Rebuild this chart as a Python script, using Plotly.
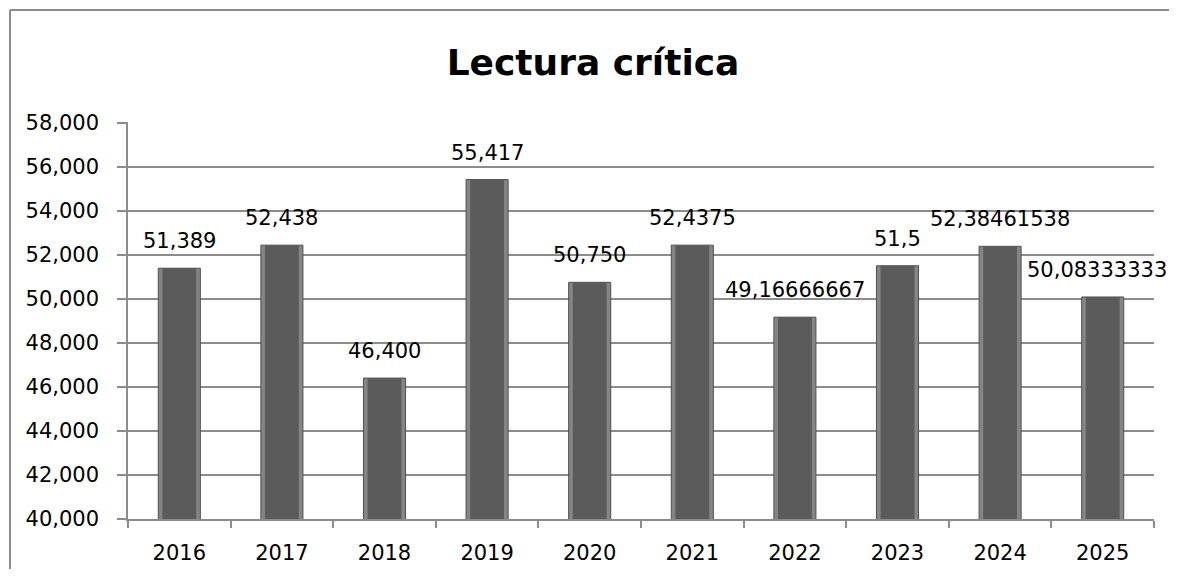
import plotly.graph_objects as go

years = ["2016", "2017", "2018", "2019", "2020", "2021", "2022", "2023", "2024", "2025"]
values = [51.389, 52.438, 46.400, 55.417, 50.750, 52.4375, 49.16666667, 51.5, 52.38461538, 50.08333333]
labels = ["51,389", "52,438", "46,400", "55,417", "50,750", "52,4375", "49,16666667", "51,5", "52,38461538", "50,08333333"]
y_ticks = [40, 42, 44, 46, 48, 50, 52, 54, 56, 58]

FONT = "'DejaVu Sans', sans-serif"

# page body has an 8px margin on every side; keep the figure inside the window
OFF = 8
W, H = 1177 - 2 * OFF, 577 - 2 * OFF
# target plot area in window pixels: x 128..1154, y 122..519
L, T = 128 - OFF, 122 - OFF
R = (OFF + W) - 1154
B = (OFF + H) - 519
PW = W - L - R
PH = H - T - B

fig = go.Figure()
fig.add_trace(go.Bar(
    x=years, y=values, width=0.41,
    marker=dict(color="#858585", line=dict(color="#505050", width=1)),
    hoverinfo="skip", showlegend=False,
))
fig.add_trace(go.Bar(
    x=years, y=values, width=0.33,
    marker=dict(color="#5b5b5b", line=dict(width=0)),
    showlegend=False,
))

# value labels (x given as category index so the axis stays categorical)
for i, (v, lab) in enumerate(zip(values, labels)):
    fig.add_annotation(x=i, y=v, text=lab, showarrow=False,
                       xanchor="center", yanchor="bottom", yshift=13,
                       xshift=-6 if i == len(values) - 1 else 0,
                       font=dict(size=21, color="#000000", family=FONT))

fig.update_layout(
    width=W, height=H,
    barmode="overlay",
    separators=",.",
    paper_bgcolor="white", plot_bgcolor="white",
    margin=dict(l=L, r=R, t=T, b=B, autoexpand=False),
    title=dict(text="<b>Lectura crítica</b>", x=(593 - OFF) / W, xanchor="center",
               xref="container",
               y=1 - (62 - OFF) / H, yanchor="middle",
               font=dict(size=36, color="#000000", family=FONT)),
    font=dict(family=FONT, color="#000000"),
)
fig.update_xaxes(
    type="category", categoryorder="array", categoryarray=years,
    range=[-0.5, len(years) - 0.5],
    automargin=False,
    showline=True, linecolor="#8c8c8c", linewidth=1.5,
    ticks="outside", tickson="boundaries", ticklen=7, tickcolor="#8c8c8c", tickwidth=1.5,
    tickfont=dict(size=21, color="#000000", family=FONT),
    ticklabelstandoff=14,
    tickangle=0,
    showgrid=False,
)
fig.update_yaxes(
    range=[40, 58.03], tickvals=y_ticks, tickformat=".3f",
    automargin=False,
    showline=True, linecolor="#8c8c8c", linewidth=1.5,
    ticks="outside", ticklen=9, tickcolor="#8c8c8c", tickwidth=1.5,
    showgrid=True, gridcolor="#8c8c8c", gridwidth=1.5,
    tickfont=dict(size=21, color="#000000", family=FONT),
    ticklabelstandoff=14,
    zeroline=False,
)
# outer chart frame (left and top edges)
fx = (10 - OFF - L) / PW
fy_top = (H - B - (10 - OFF)) / PH
fig.add_shape(type="line", xref="paper", yref="paper",
              x0=fx, x1=fx, y0=-B / PH, y1=fy_top,
              line=dict(color="#8c8c8c", width=2))
fig.add_shape(type="line", xref="paper", yref="paper",
              x0=fx, x1=(W - L) / PW, y0=fy_top, y1=fy_top,
              line=dict(color="#8c8c8c", width=2))

fig.write_html("out.html")
